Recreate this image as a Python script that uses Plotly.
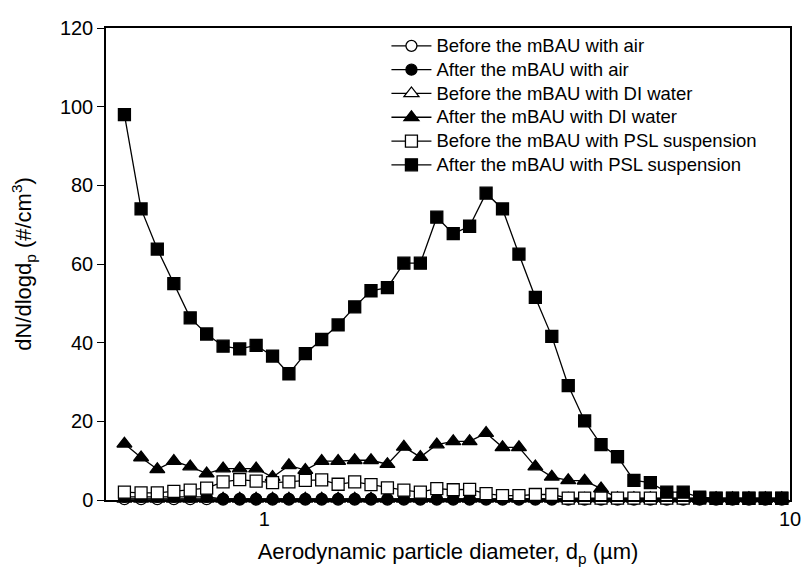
import math
import plotly.graph_objects as go

# Aerodynamic diameter channel midpoints (µm)
diameter = [0.542, 0.583, 0.626, 0.673, 0.723, 0.777, 0.835, 0.898, 0.965, 1.037,
            1.114, 1.197, 1.286, 1.382, 1.486, 1.596, 1.715, 1.843, 1.981, 2.129,
            2.288, 2.458, 2.642, 2.839, 3.051, 3.278, 3.523, 3.786, 4.068, 4.371,
            4.698, 5.048, 5.425, 5.829, 6.264, 6.732, 7.234, 7.774, 8.354, 8.977, 9.647]

before_air = [0.2] * 6 + [0.1] * 35
after_air = [0.8] * 6 + [0.3] * 35
before_di = [0.3] * 41
after_di = [14.3, 10.8, 7.8, 9.9, 8.5, 6.7, 8.0, 8.0, 8.0, 5.8,
            8.8, 7.6, 9.9, 9.9, 10.1, 10.1, 9.1, 13.5, 10.9, 14.1,
            14.9, 14.9, 17.0, 13.4, 13.4, 8.5, 5.9, 5.0, 4.9, 2.9,
            0.4, 0.4, 0.4, 0.4, 0.4, 0.4, 0.4, 0.4, 0.4, 0.4, 0.4]
before_psl = [2.0, 1.8, 1.8, 2.2, 2.5, 3.0, 4.6, 5.2, 4.8, 4.4,
              4.6, 5.0, 5.1, 4.0, 4.6, 3.9, 3.1, 2.5, 2.0, 2.9,
              2.6, 2.7, 1.6, 1.1, 1.1, 1.4, 1.4, 0.5, 0.5, 0.5,
              0.5, 0.5, 0.5, 0.5, 0.5, 0.5, 0.5, 0.5, 0.5, 0.5, 0.5]
after_psl = [98.0, 74.0, 63.8, 55.0, 46.3, 42.2, 39.1, 38.4, 39.3, 36.6,
             32.1, 37.2, 40.8, 44.5, 49.1, 53.2, 54.0, 60.2, 60.2, 71.9,
             67.7, 69.6, 78.0, 74.0, 62.5, 51.5, 41.6, 29.1, 20.1, 14.1,
             11.0, 5.0, 4.4, 2.0, 2.0, 0.7, 0.4, 0.4, 0.4, 0.4, 0.4]

x_tick_vals = [1, 10]
x_tick_text = ["1", "10"]
y_tick_vals = [0, 20, 40, 60, 80, 100, 120]

series = [
    # (name, values, symbol, legend rank)
    ("Before the mBAU with air", before_air, "circle-open", 1),
    ("Before the mBAU with DI water", before_di, "triangle-up-open", 3),
    ("After the mBAU with air", after_air, "circle", 2),
    ("After the mBAU with DI water", after_di, "triangle-up", 4),
    ("Before the mBAU with PSL suspension", before_psl, "square-open", 5),
    ("After the mBAU with PSL suspension", after_psl, "square", 6),
]

fig = go.Figure()
for name, vals, sym, rank in series:
    is_open = sym.endswith("-open")
    base = sym.replace("-open", "")
    size = 11 if base == "circle" else (13 if base == "triangle-up" else 12)
    fig.add_trace(go.Scatter(
        x=diameter, y=vals,
        name='<span style="font-size:18.5px">' + name + "</span>",
        mode="lines+markers",
        line=dict(color="black", width=1.3),
        marker=dict(symbol=base, size=size,
                    color="white" if is_open else "black",
                    line=dict(color="black", width=1.3)),
        cliponaxis=False, legendrank=rank,
    ))

font_family = "Arial, Liberation Sans, sans-serif"
# page body adds an 8px offset, so the figure is sized to fit the visible window
fig.update_layout(
    width=802, height=563,
    margin=dict(l=98, r=13, t=9, b=71),
    paper_bgcolor="white", plot_bgcolor="white",
    font=dict(family=font_family, size=20, color="black"),
    showlegend=True,
    legend=dict(x=0.41, y=0.998, xanchor="left", yanchor="top",
                bgcolor="rgba(0,0,0,0)", font=dict(size=16),
                tracegroupgap=0, itemwidth=40),
    xaxis=dict(type="log", range=[math.log10(0.5), 1.0],
               tickvals=x_tick_vals, ticktext=x_tick_text,
               ticks="", showgrid=False, zeroline=False,
               showline=True, linecolor="black", linewidth=1.5, mirror=True,
               title=dict(text="Aerodynamic particle diameter, d<sub>p</sub> (\u00b5m)",
                          font=dict(size=22), standoff=15)),
    yaxis=dict(range=[0, 120], tickvals=y_tick_vals,
               ticks="outside", ticklen=7, tickwidth=1.3, tickcolor="black",
               showgrid=False, zeroline=False,
               showline=True, linecolor="black", linewidth=1.5, mirror=True,
               title=dict(text="dN/dlogd<sub>p</sub> (#/cm<sup>3</sup>)",
                          font=dict(size=22), standoff=23)),
)

fig.write_html("out.html")
